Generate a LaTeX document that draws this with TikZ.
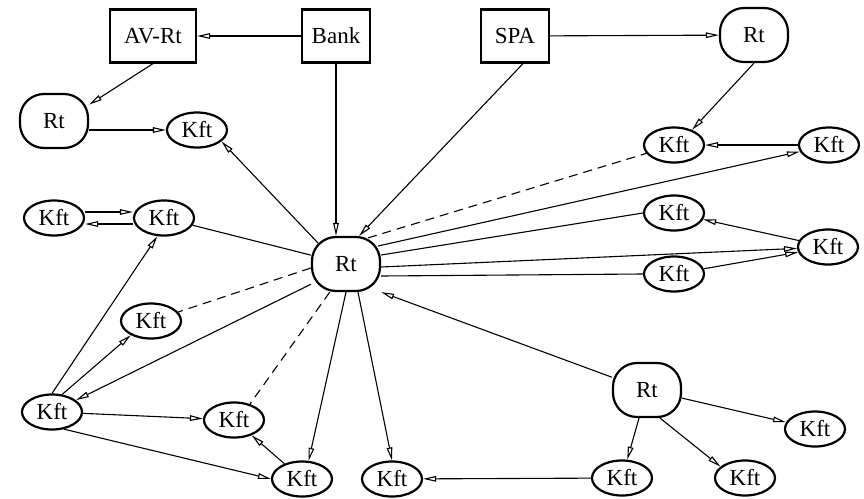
\documentclass[tikz,border=0pt]{standalone}
\usepackage{fontspec}
\setmainfont{Liberation Serif}
\usepackage{tikz}
\usetikzlibrary{arrows.meta, positioning, shapes.geometric}
\tikzset{
>={Triangle[open, length=6.5pt, width=2.8pt]}, % open arrow tip on every directed edge
box/.style={draw, rectangle, line width=1.1pt, minimum width=34pt, minimum height=26.5pt, inner xsep=5pt}, % AV-Rt, Bank and SPA
rt/.style={draw, rectangle, rounded corners=12pt, line width=1.1pt, minimum width=34pt, minimum height=27pt}, % the Rt nodes
kft/.style={draw, ellipse, line width=1.1pt, minimum width=30pt, minimum height=17.5pt, inner sep=0pt}, % the Kft nodes
weak/.style={dash pattern=on 4.5pt off 3pt}, % dashed links
}

\begin{document}
\begin{tikzpicture}[x=0.5pt, y=-0.5pt, line width=0.55pt, font=\fontsize{11.5}{13}\selectfont]
    \useasboundingbox (0,0) rectangle (864,499);
    \node[box, minimum width=43pt] (avrt) at (153,36) {AV-Rt};
    \node[box] (bank) at (336,36) {Bank};
    \node[box] (spa) at (515,36) {SPA};
    \node[rt] (rtl) at (54,121) {Rt};
    \node[rt] (rttr) at (754,35) {Rt};
    \node[rt] (rtc) at (346,264) {Rt};
    \node[rt] (rtbr) at (647,390) {Rt};
    \node[kft] (k1) at (197,130) {Kft};
    \node[kft] (k2) at (674,145) {Kft};
    \node[kft] (k3) at (829,145) {Kft};
    \node[kft] (k4) at (54,218) {Kft};
    \node[kft] (k5) at (164,218) {Kft};
    \node[kft] (k6) at (674,213) {Kft};
    \node[kft] (k7) at (828,247) {Kft};
    \node[kft] (k8) at (674,274) {Kft};
    \node[kft] (k9) at (151,321) {Kft};
    \node[kft] (k10) at (52,412) {Kft};
    \node[kft] (k11) at (234,420) {Kft};
    \node[kft] (k12) at (302,479) {Kft};
    \node[kft] (k13) at (392,479) {Kft};
    \node[kft] (k14) at (622,478) {Kft};
    \node[kft] (k15) at (745,478) {Kft};
    \node[kft] (k16) at (815,429) {Kft};
    \draw[->] (bank) -- (avrt);
    \draw[->] (avrt.south) -- (rtl.25);
    \draw[->] (rtl.east |- k1) -- (k1);
    \draw[->] (bank.south) -- (bank.south |- rtc.north);
    \draw[->] ([xshift=4pt]spa.south) -- (rtc.65);
    \draw[->] (spa) -- (rttr);
    \draw[->] (rttr.south) -- (k2.40);
    \draw[->] (k3) -- (k2);
    \draw[->] ([xshift=3.5pt, yshift=-3.5pt]rtc.north west) -- (k1.-25);
    \draw[weak] ([xshift=11pt, yshift=-1pt]rtc.north) -- (k2);
    \draw[->] ([xshift=-1.5pt, yshift=9pt]rtc.east) -- (k3);
    \draw ([yshift=4.5pt]rtc.east) -- (k6.west);
    \draw[->] ([yshift=-1.5pt]rtc.east) -- (k7);
    \draw ([yshift=-6pt]rtc.east) -- (k8.west);
    \draw[->] (k7) -- (k6);
    \draw[->] (k8) -- (k7);
    \draw[->] ([yshift=3pt]k4.east) -- ([yshift=3pt]k5.west);
    \draw[->] ([yshift=-3pt]k5.west) -- ([yshift=-3pt]k4.east);
    \draw (rtc) -- (k5);
    \draw[weak] ([yshift=-2pt]rtc.west) -- (k9);
    \draw[->] (rtc.210) -- (k10);
    \draw[weak] (rtc.240) -- (k11.45);
    \draw[->] (rtc.south) -- (k12.70);
    \draw[->] ([xshift=6pt]rtc.south) -- (k13.north);
    \draw[->] (k10.north) -- (k5.-110);
    \draw[->] (k10.60) -- (k9.-145);
    \draw[->] (k10) -- (k11);
    \draw[->] (k10.-55) -- (k12.west);
    \draw[->] (k12) -- (k11);
    \draw[->] (rtbr.160) -- (rtc.south east);
    \draw[->] (rtbr) -- (k16);
    \draw[->] (rtbr) -- (k14);
    \draw[->] ([xshift=6.5pt]rtbr.south) -- (k15.155);
    \draw[->] (k14) -- (k13);
\end{tikzpicture}
\end{document}
